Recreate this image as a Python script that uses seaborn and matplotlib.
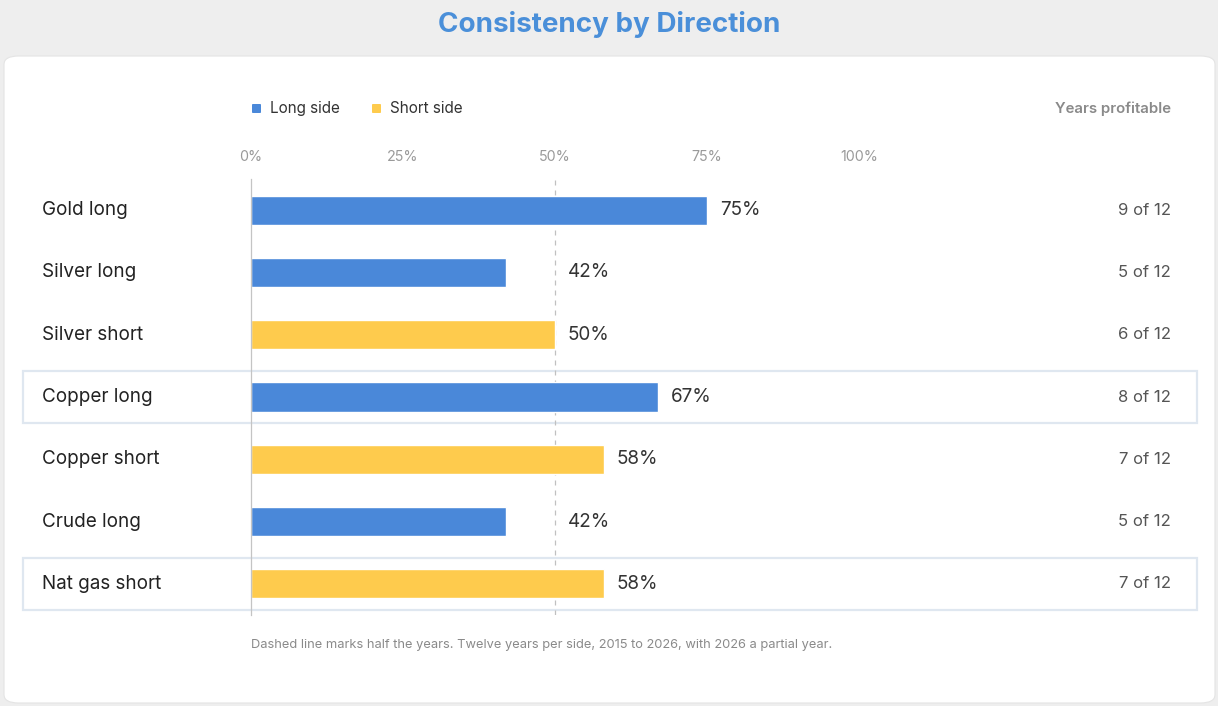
import pandas as pd
import matplotlib.pyplot as plt
import matplotlib.transforms as mtransforms
from matplotlib.patches import FancyBboxPatch, Rectangle
import seaborn as sns

# data
labels = ['Gold long', 'Silver long', 'Silver short', 'Copper long',
          'Copper short', 'Crude long', 'Nat gas short']
pct = [75, 42, 50, 67, 58, 42, 58]
years = [9, 5, 6, 8, 7, 5, 7]
total_years = 12
side = ['Long side', 'Long side', 'Short side', 'Long side',
        'Short side', 'Long side', 'Short side']
highlighted = ['Copper long', 'Nat gas short']
ticks = [0, 25, 50, 75, 100]

BLUE = '#4a88d9'
YELLOW = '#fecb4d'
palette = {'Long side': BLUE, 'Short side': YELLOW}

df = pd.DataFrame({'label': labels, 'pct': pct, 'side': side})

sns.set_theme(style='white')
plt.rcParams['font.family'] = ['Inter', 'DejaVu Sans']

W, H = 1218, 706
fig = plt.figure(figsize=(W / 100, H / 100), dpi=100)
fig.patch.set_facecolor('#eeeeee')


def fx(px):
    return px / W


def fy(py):
    return 1 - py / H


# white card behind everything
card = FancyBboxPatch((fx(4), fy(703)), fx(1211), fy(56) - fy(703),
                      boxstyle='round,pad=0,rounding_size=0.012',
                      transform=fig.transFigure, facecolor='white',
                      edgecolor='#e4e4e4', lw=0.8, zorder=-10)
fig.patches.append(card)

fig.text(0.5, fy(24), 'Consistency by Direction', ha='center', va='center',
         fontsize=20, fontweight='bold', color='#4a8fd9')

ax = fig.add_axes([fx(251), fy(615), fx(859) - fx(251), fy(179) - fy(615)])
ax.set_facecolor('none')
ax.set_zorder(1)

sns.barplot(data=df, y='label', x='pct', hue='side', palette=palette,
            dodge=False, width=0.47, orient='h', legend=False, ax=ax,
            saturation=1, order=labels)

ax.set_xlim(0, 100)
ax.set_ylim(len(labels) - 0.5, -0.5)
ax.set_xticks(ticks)
ax.set_xticklabels([f'{t}%' for t in ticks])
ax.xaxis.set_ticks_position('top')
ax.tick_params(axis='x', length=0, pad=10.5, labelsize=10.3, labelcolor='#9a9a9a')
ax.set_yticks([])
ax.set_xlabel('')
ax.set_ylabel('')
for s in ['top', 'right', 'bottom']:
    ax.spines[s].set_visible(False)
ax.spines['left'].set_color('#c4c4c4')
ax.spines['left'].set_linewidth(0.9)

ax.axvline(50, color='#c0c0c0', lw=0.9, ls=(0, (4, 4)), zorder=0)

blend = mtransforms.blended_transform_factory(fig.transFigure, ax.transData)

for i, lab in enumerate(labels):
    if lab in highlighted:
        ax.add_patch(Rectangle((fx(23), i - 0.42), fx(1197) - fx(23), 0.84,
                               transform=blend, facecolor='none',
                               edgecolor='#dfe7f0', lw=1.6, clip_on=False,
                               zorder=-1))
    ax.text(fx(42), i, lab, transform=blend, ha='left', va='center',
            fontsize=13.6, color='#222222')
    ax.text(max(pct[i], 50) + 2.1, i, f'{pct[i]}%', ha='left', va='center',
            fontsize=13.6, color='#333333')
    ax.text(fx(1171), i, f'{years[i]} of {total_years}', transform=blend,
            ha='right', va='center', fontsize=12, color='#555555',
            clip_on=False)

# legend
for x0, name in [(256, 'Long side'), (376, 'Short side')]:
    fig.patches.append(FancyBboxPatch((fx(x0 - 4), fy(113)), fx(9), fy(104) - fy(113),
                                      boxstyle='round,pad=0,rounding_size=0.001',
                                      transform=fig.transFigure,
                                      facecolor=palette[name], lw=0))
    fig.text(fx(x0 + 14), fy(108.5), name, ha='left', va='center',
             fontsize=11, color='#333333')

fig.text(fx(1171), fy(108.5), 'Years profitable', ha='right', va='center',
         fontsize=10.8, color='#8a8a8a', fontweight='semibold')

fig.text(fx(251), fy(645), 'Dashed line marks half the years. Twelve years per side, '
         '2015 to 2026, with 2026 a partial year.', ha='left', va='center',
         fontsize=9.25, color='#8a8a8a')

fig.savefig('out.png', dpi=100, facecolor=fig.get_facecolor())
